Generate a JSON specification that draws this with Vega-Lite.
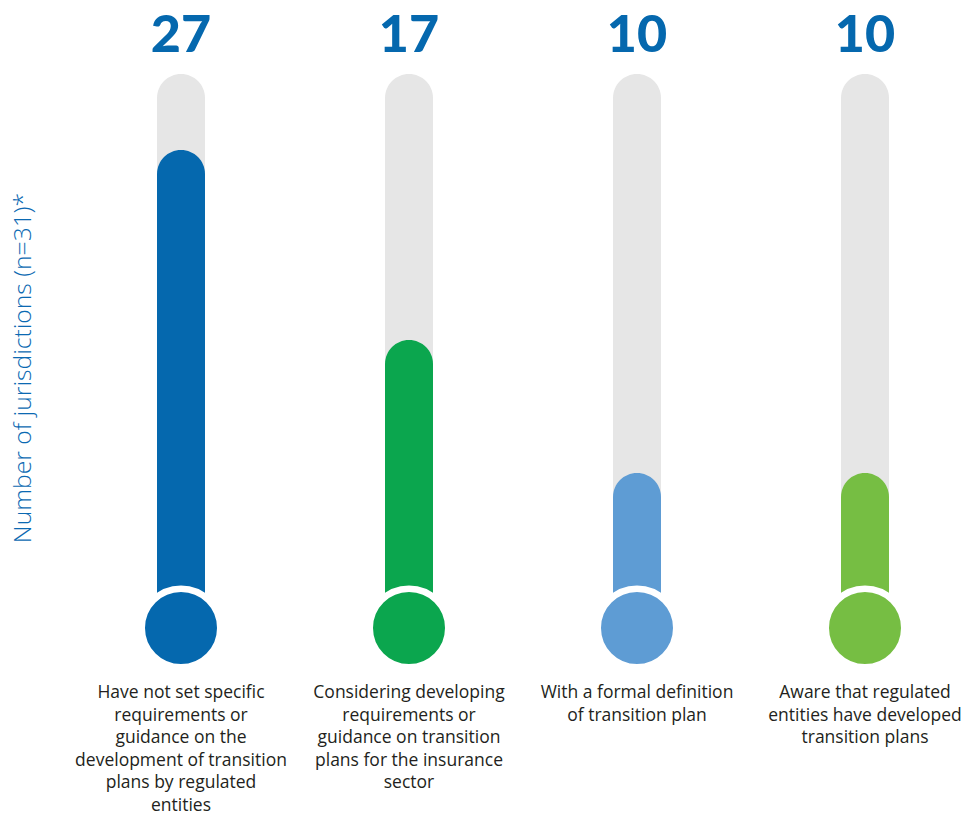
{
  "$schema": "https://vega.github.io/schema/vega-lite/v6.json",
  "autosize": "none",
  "width": 864,
  "height": 591,
  "padding": {"left": 91, "top": 72, "right": 11, "bottom": 154},
  "background": "white",
  "config": {"view": {"stroke": null}},
  "data": {"values": [
    {"label": "Have not set specific\nrequirements or\nguidance on the\ndevelopment of transition\nplans by regulated\nentities", "value": 27, "total": 31},
    {"label": "Considering developing\nrequirements or\nguidance on transition\nplans for the insurance\nsector", "value": 17, "total": 31},
    {"label": "With a formal definition\nof transition plan", "value": 10, "total": 31},
    {"label": "Aware that regulated\nentities have developed\ntransition plans", "value": 10, "total": 31}
  ]},
  "encoding": {
    "x": {"field": "label", "type": "nominal", "sort": null, "axis": null,
          "scale": {"paddingInner": 0.7895, "paddingOuter": 0.2895}}
  },
  "layer": [
    {
      "mark": {"type": "bar", "color": "#E6E6E6", "width": 48, "cornerRadiusTopLeft": 24, "cornerRadiusTopRight": 24},
      "encoding": {
        "y": {"field": "total", "type": "quantitative", "scale": {"domain": [0, 31.1], "nice": false, "zero": true},
              "axis": {"title": "Number of jurisdictions (n=31)*", "labels": false, "ticks": false, "domain": false, "grid": false,
                       "titleColor": "#0B69B2", "titleFont": "Open Sans", "titleFontSize": 24.7, "titleFontWeight": 300, "titlePadding": 56}},
        "y2": {"datum": 0}
      }
    },
    {
      "mark": {"type": "bar", "width": 48, "cornerRadiusTopLeft": 24, "cornerRadiusTopRight": 24},
      "encoding": {
        "y": {"field": "value", "type": "quantitative"},
        "y2": {"datum": 0},
        "color": {"field": "label", "type": "nominal", "sort": null, "legend": null,
                  "scale": {"range": ["#0568AE", "#0BA64E", "#5E9CD4", "#76BE43"]}}
      }
    },
    {
      "mark": {"type": "point", "shape": "circle", "filled": true, "size": 6162, "stroke": "white", "strokeWidth": 6.5, "opacity": 1, "yOffset": -35},
      "encoding": {
        "y": {"datum": 0},
        "color": {"field": "label", "type": "nominal", "sort": null, "legend": null}
      }
    },
    {
      "mark": {"type": "text", "font": "Lato", "fontSize": 52, "fontWeight": 900, "color": "#0568AE", "baseline": "alphabetic", "dy": -22},
      "encoding": {
        "y": {"field": "total", "type": "quantitative"},
        "text": {"field": "value", "type": "quantitative"}
      }
    },
    {
      "mark": {"type": "text", "font": "Open Sans", "fontSize": 17.5, "color": "#231F20", "baseline": "top", "align": "center", "lineBreak": "\n", "lineHeight": 22.6, "dy": 21},
      "encoding": {
        "y": {"datum": 0},
        "text": {"field": "label", "type": "nominal"}
      }
    }
  ]
}
